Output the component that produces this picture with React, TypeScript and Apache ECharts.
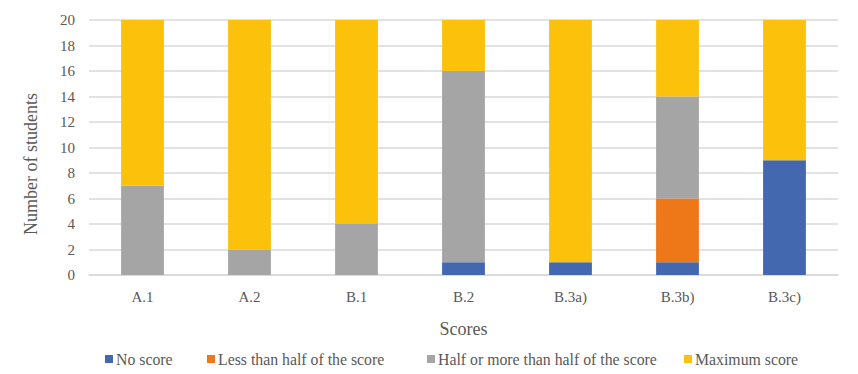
import React, { useEffect, useRef } from "react";
import * as echarts from "echarts";

const categories = ["A.1", "A.2", "B.1", "B.2", "B.3a)", "B.3b)", "B.3c)"];
const noScore = [0, 0, 0, 1, 1, 1, 9];
const lessThanHalf = [0, 0, 0, 0, 0, 5, 0];
const halfOrMore = [7, 2, 4, 15, 0, 8, 0];
const maximumScore = [13, 18, 16, 4, 19, 6, 11];
const seriesNames = [
  "No score",
  "Less than half of the score",
  "Half or more than half of the score",
  "Maximum score",
];
const colors = ["#4368B0", "#EE7718", "#A5A5A5", "#FBC10B"];
const legendLefts = [105, 207, 427, 684];
const yTitle = "Number of students";

const FONT = "'Liberation Serif', 'Times New Roman', serif";

export default function App() {
  const ref = useRef<HTMLDivElement>(null);
  useEffect(() => {
    document.body.style.margin = "0";
    if (!ref.current) return;
    const chart = echarts.init(ref.current, undefined, { renderer: "svg" });
    const data = [noScore, lessThanHalf, halfOrMore, maximumScore];
    chart.setOption({
      animation: false,
      textStyle: { fontFamily: FONT },
      grid: { left: 89, right: 20, top: 20, bottom: 99 },
      graphic: [
        {
          type: "text",
          x: 31,
          y: 164,
          rotation: Math.PI / 2,
          style: {
            text: yTitle,
            fontFamily: FONT,
            fontSize: 18,
            fill: "#595959",
            align: "center",
            verticalAlign: "middle",
          },
        },
      ],
      legend: seriesNames.map((name, i) => ({
        top: 351,
        left: legendLefts[i],
        padding: 0,
        itemWidth: 8,
        itemHeight: 8,
        icon: "rect",
        textStyle: { fontFamily: FONT, fontSize: 15.8, color: "#595959", padding: [0, 0, 0, -2] },
        data: [name],
      })),
      xAxis: {
        type: "category",
        data: categories,
        name: "Scores",
        nameLocation: "middle",
        nameGap: 45,
        nameTextStyle: { fontFamily: FONT, fontSize: 18, color: "#595959" },
        axisLine: { lineStyle: { color: "#D9D9D9", width: 1.5 } },
        axisTick: { show: false },
        axisLabel: { fontFamily: FONT, fontSize: 15, color: "#595959", margin: 14 },
      },
      yAxis: {
        type: "value",
        min: 0,
        max: 20,
        interval: 2,
        axisLine: { show: false },
        axisTick: { show: false },
        axisLabel: { fontFamily: FONT, fontSize: 15, color: "#595959", margin: 14 },
        splitLine: { lineStyle: { color: "#D9D9D9", width: 1.5 } },
      },
      series: seriesNames.map((name, i) => ({
        name,
        type: "bar",
        stack: "total",
        barWidth: "40%",
        itemStyle: { color: colors[i] },
        data: data[i],
      })),
    });
    return () => chart.dispose();
  }, []);
  return <div ref={ref} style={{ width: 858, height: 374 }} />;
}
